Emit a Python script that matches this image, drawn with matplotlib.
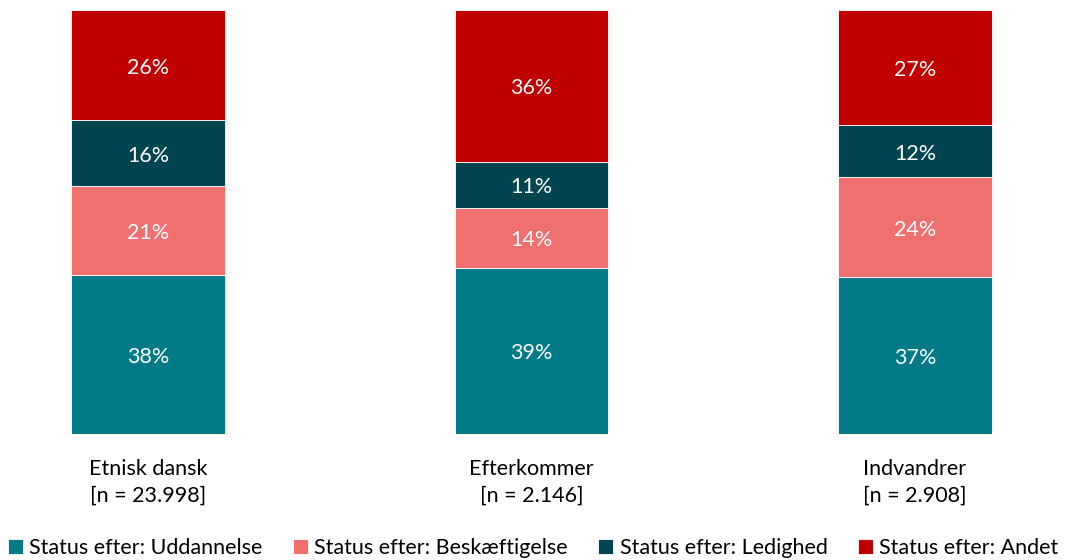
import numpy as np
import matplotlib
matplotlib.use('Agg')
import matplotlib.pyplot as plt

plt.rcParams['font.family'] = ['Lato', 'DejaVu Sans']

groups = ['Etnisk dansk', 'Efterkommer', 'Indvandrer']
n_labels = ['[n = 23.998]', '[n = 2.146]', '[n = 2.908]']
series = ['Status efter: Uddannelse', 'Status efter: Beskæftigelse',
          'Status efter: Ledighed', 'Status efter: Andet']
uddannelse = [37.6, 39.2, 37.0]
beskaeftigelse = [20.8, 14.2, 23.6]
ledighed = [15.6, 10.8, 12.3]
andet = [26.0, 35.8, 27.1]
colors = ['#007A87', '#F07070', '#024550', '#C00000']

fs = 15.5
fig = plt.figure(figsize=(10.66, 5.6), dpi=100)
ax = fig.add_axes([0, 1 - 434 / 560, 1, 424 / 560])

x = np.arange(len(groups))
bottom = np.zeros(len(groups))
for name, vals, col in zip(series, [uddannelse, beskaeftigelse, ledighed, andet], colors):
    vals = np.array(vals)
    ax.bar(x, vals, 0.4, bottom=bottom, color=col, label=name,
           edgecolor='white', linewidth=0.6)
    for xi, b, v in zip(x, bottom, vals):
        ax.text(xi, b + v / 2 - 0.6, f'{v:.0f}%', ha='center', va='center',
                color='white', fontsize=fs)
    bottom += vals

ax.set_xlim(-148 / 383.5, (1066 - 148) / 383.5)
ax.set_ylim(0, 100)
ax.set_xticks(x)
ax.set_xticklabels([f'{g}\n{n}' for g, n in zip(groups, n_labels)],
                   fontsize=fs, linespacing=1.4)
ax.tick_params(axis='x', length=0, pad=18)
ax.set_yticks([])
for s in ax.spines.values():
    s.set_visible(False)

fig.legend(loc='center', bbox_to_anchor=(0.5, 1 - 548 / 560), ncol=4,
           frameon=False, fontsize=fs, handlelength=0.7, handleheight=0.7,
           handletextpad=0.3, columnspacing=1.4, borderaxespad=0)

fig.savefig('out.png', dpi=100)
